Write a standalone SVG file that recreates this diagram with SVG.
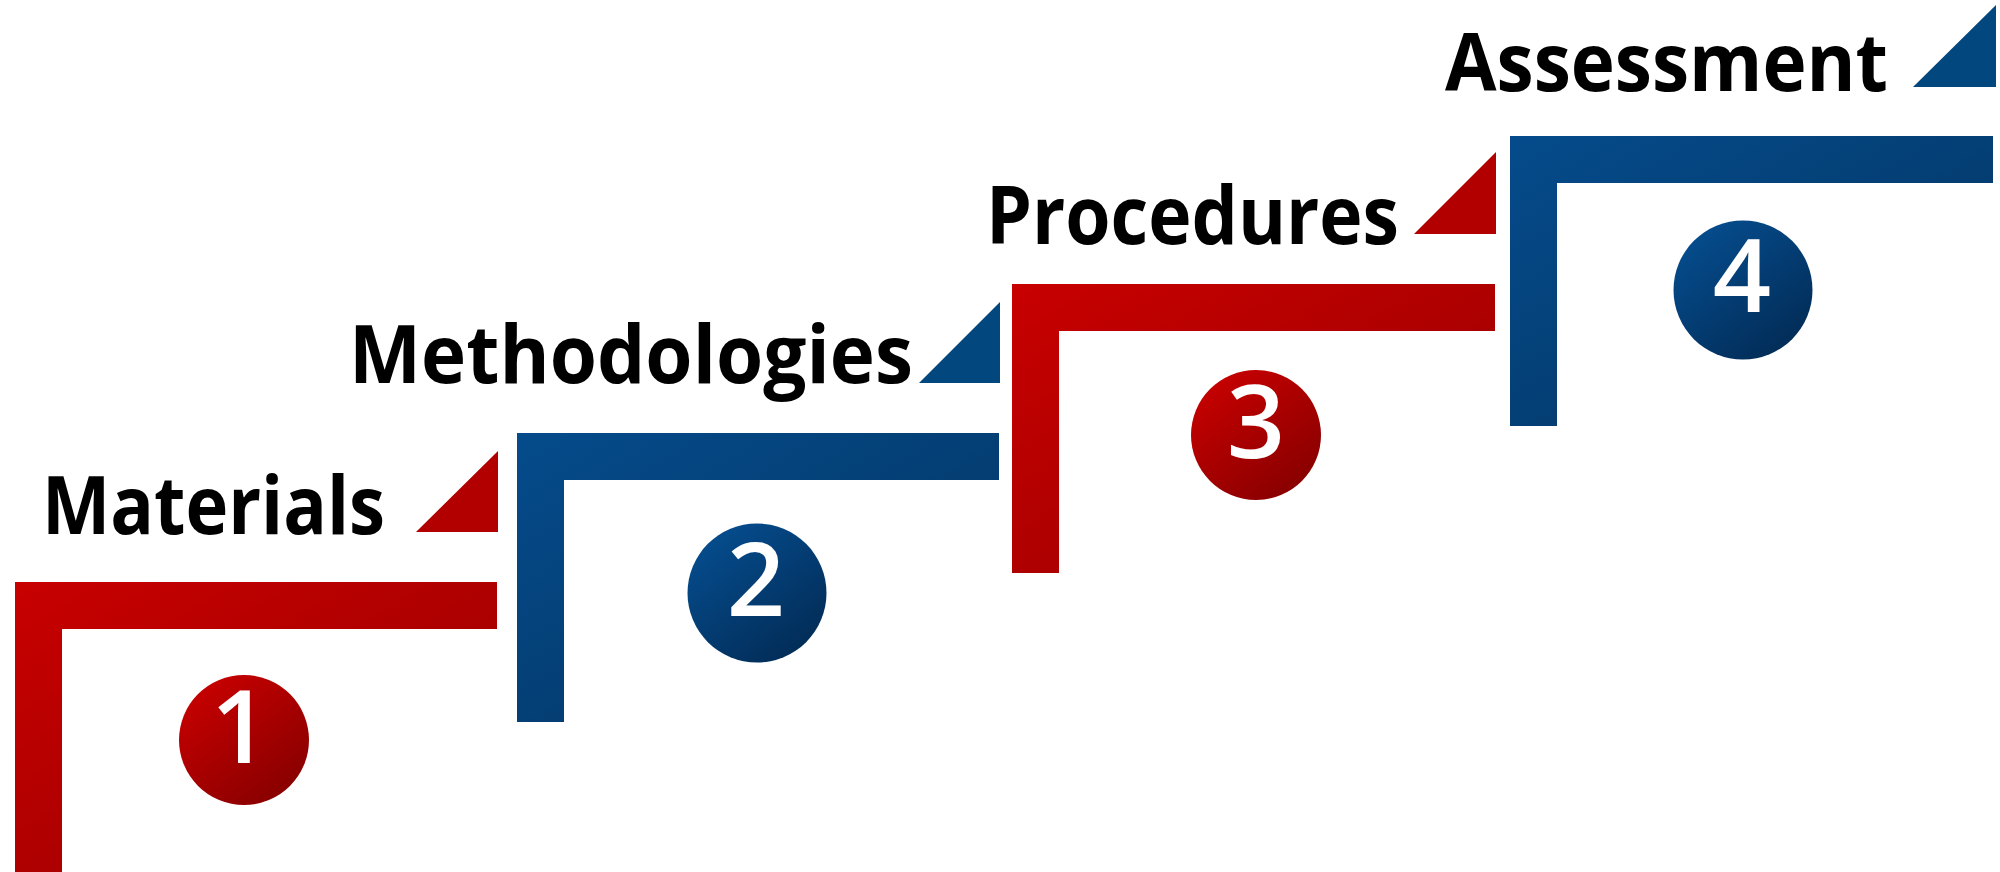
<svg xmlns="http://www.w3.org/2000/svg" width="2000" height="872" viewBox="0 0 2000 872">
  <defs>
    <linearGradient id="gRed" x1="0" y1="0" x2="1" y2="1">
      <stop offset="0" stop-color="#c80000"/>
      <stop offset="1" stop-color="#960000"/>
    </linearGradient>
    <linearGradient id="gBlue" x1="0" y1="0" x2="1" y2="1">
      <stop offset="0" stop-color="#054b8b"/>
      <stop offset="1" stop-color="#03335f"/>
    </linearGradient>
    <linearGradient id="gRedC" x1="0.2" y1="0.1" x2="0.85" y2="0.95">
      <stop offset="0" stop-color="#c40000"/>
      <stop offset="1" stop-color="#860000"/>
    </linearGradient>
    <linearGradient id="gBlueC" x1="0.2" y1="0.1" x2="0.85" y2="0.95">
      <stop offset="0" stop-color="#054b8b"/>
      <stop offset="1" stop-color="#022b55"/>
    </linearGradient>
    <style>
      .lbl { font-family: "Open Sans", "Noto Sans", "Liberation Sans", sans-serif; font-weight: 700; font-size: 80px; fill: #000; }
      .num { font-family: "Open Sans", "Noto Sans", "Liberation Sans", sans-serif; font-weight: 600; font-size: 102px; fill: #fff; text-anchor: middle; }
      .red { fill: url(#gRed); }
      .blue { fill: url(#gBlue); }
      .redC { fill: url(#gRedC); }
      .blueC { fill: url(#gBlueC); }
      .triR { fill: #b20000; }
      .triB { fill: #03477f; }
    </style>
  </defs>

  <g id="step1">
    <path class="red" d="M15,582 H497 V629 H62 V872 H15 Z"/>
    <polygon class="triR" points="416,532 498,532 498,451"/>
    <circle class="redC" cx="244" cy="740" r="65"/>
    <text class="num" x="240" y="763">1</text>
    <text class="lbl" x="42" y="534" textLength="343" lengthAdjust="spacingAndGlyphs">Materials</text>
  </g>

  <g id="step2">
    <path class="blue" d="M517,433 H999 V480 H564 V722 H517 Z"/>
    <polygon class="triB" points="919,383 1000,383 1000,302"/>
    <circle class="blueC" cx="757" cy="593" r="69.5"/>
    <text class="num" x="756" y="616">2</text>
    <text class="lbl" x="349" y="383" textLength="564" lengthAdjust="spacingAndGlyphs">Methodologies</text>
  </g>

  <g id="step3">
    <path class="red" d="M1012,284 H1495 V331 H1059 V573 H1012 Z"/>
    <polygon class="triR" points="1414,234 1496,234 1496,152"/>
    <circle class="redC" cx="1256" cy="435" r="65"/>
    <text class="num" x="1256" y="458">3</text>
    <text class="lbl" x="986" y="244" textLength="413" lengthAdjust="spacingAndGlyphs">Procedures</text>
  </g>

  <g id="step4">
    <path class="blue" d="M1510,136 H1993 V183 H1557 V426 H1510 Z"/>
    <polygon class="triB" points="1913,87 1996,87 1996,5"/>
    <circle class="blueC" cx="1743" cy="290" r="69.5"/>
    <text class="num" x="1742" y="312">4</text>
    <text class="lbl" x="1445" y="91" textLength="443" lengthAdjust="spacingAndGlyphs">Assessment</text>
  </g>

  <g id="connectors"></g>
</svg>
